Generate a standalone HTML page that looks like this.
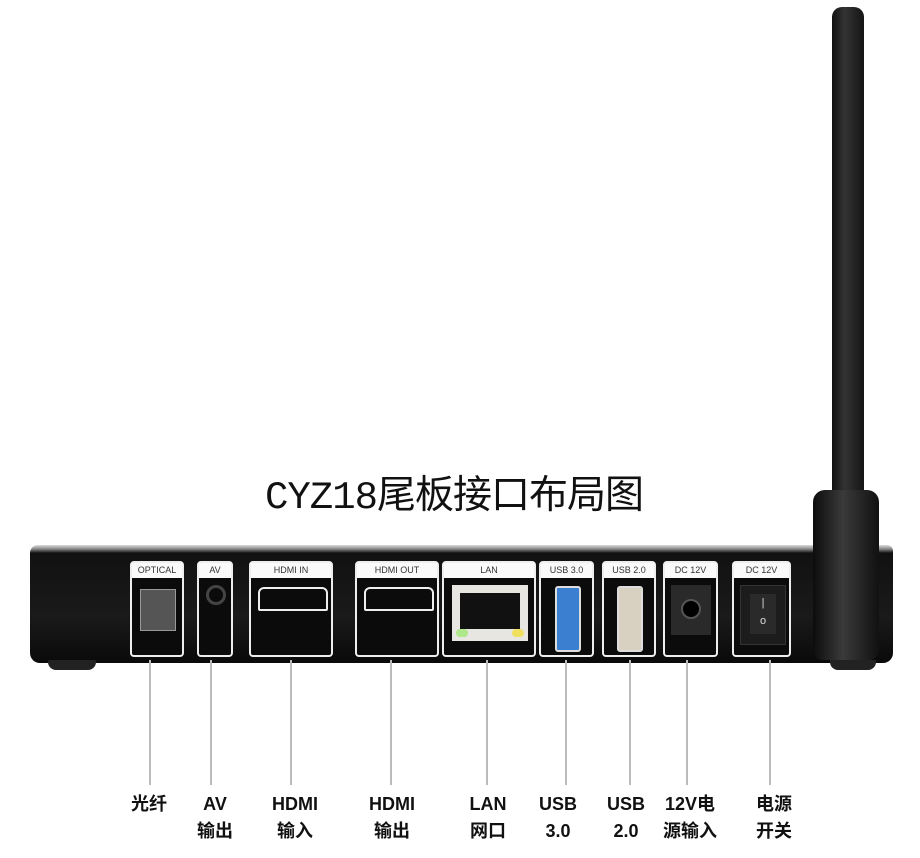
<!DOCTYPE html>
<html><head><meta charset="utf-8"><style>
body{margin:0;width:920px;height:858px;background:#fff;position:relative;overflow:hidden;font-family:"Liberation Sans","Noto Sans CJK SC",sans-serif}
.a{position:absolute}
.p{position:absolute;top:561px;height:96px;border:2px solid #eee;border-radius:4px;background:#0b0b0b;box-sizing:border-box}
.p .h{position:absolute;left:0;right:0;top:0;height:15px;background:#fafafa;color:#333;font-size:9px;text-align:center;line-height:15px}
.l{position:absolute;top:660px;width:2px;height:125px;background:#bbb}
.t{position:absolute;top:791px;font-weight:bold;font-size:18px;line-height:27px;text-align:center;width:70px;color:#111}
</style></head><body>
<div class="a" style="left:265px;top:464px;font-size:39px;font-family:'Liberation Mono','Noto Sans CJK SC',sans-serif;color:#111;letter-spacing:-1px;white-space:nowrap">CYZ18尾板接口布局图</div>
<!-- box -->
<div class="a" style="left:30px;top:545px;width:863px;height:118px;background:linear-gradient(#ddd 0,#888 4px,#111 8px,#1a1a1a 60%,#0a0a0a);border-radius:8px 6px 10px 10px"></div>
<div class="a" style="left:48px;top:660px;width:48px;height:10px;background:#222;border-radius:0 0 8px 8px"></div>
<div class="a" style="left:830px;top:660px;width:46px;height:10px;background:#222;border-radius:0 0 8px 8px"></div>
<!-- antenna -->
<div class="a" style="left:832px;top:7px;width:32px;height:500px;background:linear-gradient(90deg,#111,#333 40%,#151515);border-radius:10px 10px 0 0"></div>
<div class="a" style="left:813px;top:490px;width:66px;height:170px;background:linear-gradient(90deg,#0c0c0c,#3a3a3a 45%,#111);border-radius:12px 12px 10px 10px"></div>
<!-- panels -->
<div class="p" style="left:130px;width:54px"><div class="h">OPTICAL</div><div class="a" style="left:8px;top:26px;width:34px;height:40px;background:#555;border:1px solid #999"></div></div>
<div class="p" style="left:197px;width:36px"><div class="h">AV</div><div class="a" style="left:7px;top:22px;width:14px;height:14px;border:3px solid #444;border-radius:50%"></div></div>
<div class="p" style="left:249px;width:84px"><div class="h">HDMI IN</div><div class="a" style="left:7px;top:24px;width:66px;height:20px;border:2px solid #eee;border-radius:6px 6px 2px 2px"></div></div>
<div class="p" style="left:355px;width:84px"><div class="h">HDMI OUT</div><div class="a" style="left:7px;top:24px;width:66px;height:20px;border:2px solid #eee;border-radius:6px 6px 2px 2px"></div></div>
<div class="p" style="left:442px;width:94px"><div class="h">LAN</div><div class="a" style="left:8px;top:22px;width:76px;height:56px;background:#e8e6e0"><div class="a" style="left:8px;top:8px;width:60px;height:36px;background:#111"></div><div class="a" style="left:4px;top:44px;width:12px;height:8px;background:#aee88a;border-radius:4px"></div><div class="a" style="left:60px;top:44px;width:12px;height:8px;background:#f0e060;border-radius:4px"></div></div></div>
<div class="p" style="left:539px;width:55px"><div class="h">USB 3.0</div><div class="a" style="left:14px;top:23px;width:22px;height:62px;border:2px solid #ddd;background:#3a7fd0;border-radius:3px"></div></div>
<div class="p" style="left:602px;width:54px"><div class="h">USB 2.0</div><div class="a" style="left:13px;top:23px;width:22px;height:62px;border:2px solid #ddd;background:#d8d0c0;border-radius:3px"></div></div>
<div class="p" style="left:663px;width:55px"><div class="h">DC 12V</div><div class="a" style="left:6px;top:22px;width:40px;height:50px;background:#2a2a2a"><div class="a" style="left:10px;top:14px;width:16px;height:16px;border-radius:50%;background:#000;border:2px solid #555"></div></div></div>
<div class="p" style="left:732px;width:59px"><div class="h">DC 12V</div><div class="a" style="left:6px;top:22px;width:44px;height:58px;background:#1c1c1c;border:1px solid #333"><div class="a" style="left:9px;top:8px;width:26px;height:40px;background:#2a2a2a;color:#ddd;font-size:11px;text-align:center;line-height:18px">|<br>o</div></div></div>
<!-- leaders -->
<div class="l" style="left:149px"></div><div class="l" style="left:210px"></div><div class="l" style="left:290px"></div><div class="l" style="left:390px"></div><div class="l" style="left:486px"></div><div class="l" style="left:565px"></div><div class="l" style="left:629px"></div><div class="l" style="left:686px"></div><div class="l" style="left:769px"></div>
<div class="t" style="left:114px">光纤</div>
<div class="t" style="left:180px">AV<br>输出</div>
<div class="t" style="left:260px">HDMI<br>输入</div>
<div class="t" style="left:357px">HDMI<br>输出</div>
<div class="t" style="left:453px">LAN<br>网口</div>
<div class="t" style="left:523px">USB<br>3.0</div>
<div class="t" style="left:591px">USB<br>2.0</div>
<div class="t" style="left:655px">12V电<br>源输入</div>
<div class="t" style="left:739px">电源<br>开关</div>
</body></html>
